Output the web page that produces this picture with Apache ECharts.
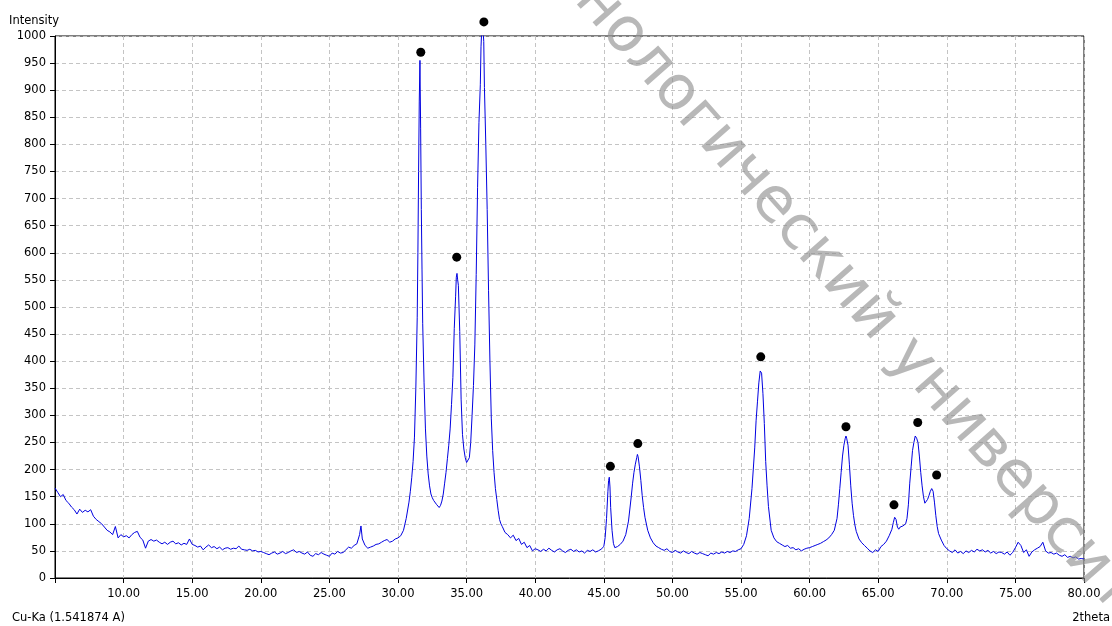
<!DOCTYPE html>
<html><head><meta charset="utf-8">
<script src="https://cdn.jsdelivr.net/npm/echarts@6/dist/echarts.min.js"></script>
<style>html,body{margin:0;padding:0;background:#fff}#c{width:1112px;height:626px}</style>
</head><body><div id="c"></div>
<script>
// 2theta scan positions (deg)
const twoTheta = [
  5.0,5.2,5.4,5.6,5.8,6.0,6.2,6.4,6.6,6.8,
  7.0,7.2,7.4,7.6,7.8,8.0,8.2,8.4,8.6,8.8,
  9.0,9.2,9.4,9.6,9.8,10.0,10.2,10.4,10.6,10.8,
  11.0,11.2,11.4,11.6,11.8,12.0,12.2,12.4,12.6,12.8,
  13.0,13.2,13.4,13.6,13.8,14.0,14.2,14.4,14.6,14.8,
  15.0,15.2,15.4,15.6,15.8,16.0,16.2,16.4,16.6,16.8,
  17.0,17.2,17.4,17.6,17.8,18.0,18.2,18.4,18.6,18.8,
  19.0,19.2,19.4,19.6,19.8,20.0,20.2,20.4,20.6,20.8,
  21.0,21.2,21.4,21.6,21.8,22.0,22.2,22.4,22.6,22.8,
  23.0,23.2,23.4,23.6,23.8,24.0,24.2,24.4,24.6,24.8,
  25.0,25.2,25.4,25.6,25.8,26.0,26.2,26.4,26.6,26.8,
  27.0,27.2,27.3,27.4,27.6,27.8,28.0,28.2,28.4,28.6,
  28.8,29.0,29.2,29.4,29.6,29.8,30.0,30.2,30.4,30.6,
  30.8,30.9,31.0,31.1,31.2,31.3,31.4,31.45,31.5,31.55,
  31.6,31.65,31.7,31.75,31.8,31.9,32.0,32.1,32.2,32.3,
  32.4,32.5,32.6,32.7,32.8,32.9,33.0,33.1,33.2,33.3,
  33.4,33.5,33.6,33.7,33.8,33.9,34.0,34.1,34.2,34.25,
  34.3,34.35,34.4,34.5,34.6,34.7,34.8,34.9,35.0,35.1,
  35.2,35.3,35.4,35.5,35.6,35.7,35.8,35.9,36.0,36.05,
  36.1,36.15,36.2,36.25,36.3,36.4,36.5,36.6,36.7,36.8,
  36.9,37.0,37.1,37.2,37.3,37.4,37.5,37.6,37.8,38.0,
  38.2,38.4,38.6,38.8,39.0,39.2,39.4,39.6,39.8,40.0,
  40.2,40.4,40.6,40.8,41.0,41.2,41.4,41.6,41.8,42.0,
  42.2,42.4,42.6,42.8,43.0,43.2,43.4,43.6,43.8,44.0,
  44.2,44.4,44.6,44.8,45.0,45.1,45.2,45.3,45.35,45.4,
  45.45,45.5,45.6,45.7,45.8,45.9,46.0,46.2,46.4,46.6,
  46.8,47.0,47.1,47.2,47.3,47.4,47.45,47.5,47.6,47.7,
  47.8,47.9,48.0,48.2,48.4,48.6,48.8,49.0,49.2,49.4,
  49.6,49.8,50.0,50.2,50.4,50.6,50.8,51.0,51.2,51.4,
  51.6,51.8,52.0,52.2,52.4,52.6,52.8,53.0,53.2,53.4,
  53.6,53.8,54.0,54.2,54.4,54.6,54.8,55.0,55.2,55.4,
  55.6,55.8,56.0,56.1,56.2,56.3,56.4,56.45,56.5,56.6,
  56.7,56.8,56.9,57.0,57.2,57.4,57.6,57.8,58.0,58.2,
  58.4,58.6,58.8,59.0,59.2,59.4,59.6,59.8,60.0,60.2,
  60.4,60.6,60.8,61.0,61.2,61.4,61.6,61.8,62.0,62.1,
  62.2,62.3,62.4,62.5,62.6,62.65,62.7,62.8,62.9,63.0,
  63.1,63.2,63.3,63.4,63.6,63.8,64.0,64.2,64.4,64.6,
  64.8,65.0,65.2,65.4,65.6,65.8,66.0,66.1,66.2,66.3,
  66.4,66.5,66.6,66.8,67.0,67.1,67.2,67.3,67.4,67.5,
  67.6,67.7,67.75,67.8,67.9,68.0,68.1,68.2,68.3,68.4,
  68.5,68.6,68.7,68.8,68.9,69.0,69.1,69.2,69.3,69.4,
  69.6,69.8,70.0,70.2,70.4,70.6,70.8,71.0,71.2,71.4,
  71.6,71.8,72.0,72.2,72.4,72.6,72.8,73.0,73.2,73.4,
  73.6,73.8,74.0,74.2,74.4,74.6,74.8,75.0,75.2,75.4,
  75.6,75.8,76.0,76.2,76.4,76.6,76.8,77.0,77.2,77.4,
  77.6,77.8,78.0,78.2,78.4,78.6,78.8,79.0,79.2,79.4,
  79.6,79.8,80.0
];
// measured intensity (counts)
const intensity = [
  166,158,150,154,143,138,131,126,118,127,
  121,125,122,126,114,108,104,100,94,88,
  85,80,95,74,80,76,78,74,80,84,
  86,75,70,55,68,71,68,70,66,63,
  66,62,66,68,63,65,61,64,62,72,
  62,60,57,59,52,57,61,56,58,54,
  57,52,55,56,53,55,54,59,53,52,
  51,53,50,51,48,49,47,45,43,46,
  48,44,46,49,45,47,50,52,47,49,
  46,44,48,42,40,45,43,47,44,42,
  40,46,44,49,46,47,52,57,55,60,
  63,80,96,72,60,55,57,59,62,63,
  66,69,71,66,68,72,74,78,88,110,
  140,160,185,215,260,350,480,600,750,880,
  955,830,680,570,470,360,275,225,192,170,
  155,148,143,141,136,133,130,134,142,155,
  175,195,220,245,275,320,370,460,520,555,
  562,550,540,455,330,265,238,222,213,210,
  222,250,300,355,430,560,720,840,910,980,
  1010,1018,1012,990,905,800,680,530,400,295,
  235,195,165,145,125,108,100,95,84,80,
  74,79,69,73,62,66,56,60,50,54,
  52,49,53,50,55,51,48,52,54,50,
  47,51,53,49,52,48,50,46,51,49,
  52,48,50,53,58,75,110,160,180,186,
  168,130,88,64,56,55,58,62,68,80,
  105,150,175,195,210,222,228,224,205,180,
  152,130,112,88,74,65,59,56,53,51,
  54,49,47,51,48,46,50,47,45,49,
  46,44,47,45,43,41,46,44,47,45,
  48,46,49,47,50,49,52,54,62,78,
  110,165,240,290,325,360,382,385,378,340,
  285,215,170,132,88,74,67,64,61,58,
  60,55,56,52,54,50,53,55,56,58,
  60,62,64,67,70,74,80,88,110,135,
  165,195,225,245,258,262,258,245,210,170,
  138,115,98,86,72,65,60,55,50,47,
  52,49,58,62,68,78,90,102,112,108,
  94,90,94,96,100,110,135,175,205,235,
  250,262,265,258,250,225,195,170,150,138,
  140,145,152,160,165,160,140,115,95,82,
  70,60,54,50,47,52,46,49,45,50,
  47,51,48,53,50,52,48,51,46,49,
  45,48,47,44,48,42,47,56,66,60,
  47,52,40,48,52,55,58,66,50,46,
  47,44,46,42,40,43,38,40,37,39,
  35,36,35
];
// identified peak markers
const peakTheta = [31.66, 34.28, 36.26, 45.48, 47.48, 56.44, 62.65, 66.15, 67.88, 69.26];
const peakMark  = [970, 592, 1026, 206, 248, 408, 279, 135, 287, 190];

const yTitle = 'Intensity';
const xTitle = '2theta';
const radiation = 'Cu-Ka (1.541874 A)';
const watermark = 'технологический университет';

const FONT = 'DejaVu Sans';
const chart = echarts.init(document.getElementById('c'), null, {renderer: 'canvas'});
const gridLine = {show: true, lineStyle: {color: '#c4c4c4', type: [4, 3], width: 1}};
chart.setOption({
  animation: false,
  grid: {left: 55, top: 36, right: 28, bottom: 48, show: true, borderColor: '#000', borderWidth: 1, backgroundColor: 'rgba(0,0,0,0)'},
  xAxis: {
    type: 'value', min: 5, max: 80, interval: 5,
    axisLine: {lineStyle: {color: '#000', width: 1}},
    axisTick: {show: true, length: 5, lineStyle: {color: '#000'}},
    axisLabel: {color: '#000', fontFamily: FONT, fontSize: 11.5, margin: 10,
      formatter: v => v === 5 ? '' : v.toFixed(2)},
    splitLine: gridLine
  },
  yAxis: {
    type: 'value', min: 0, max: 1000, interval: 50,
    axisLine: {show: true, lineStyle: {color: '#000', width: 1}},
    axisTick: {show: true, length: 5, lineStyle: {color: '#000'}},
    axisLabel: {color: '#000', fontFamily: FONT, fontSize: 11.5, margin: 9,
      formatter: v => String(v)},
    splitLine: gridLine
  },
  series: [
    {type: 'line', data: twoTheta.map((t, i) => [t, intensity[i]]), showSymbol: false,
     lineStyle: {color: '#0000e0', width: 1}, clip: true, z: 3},
    {type: 'scatter', data: peakTheta.map((t, i) => [t, peakMark[i]]), symbol: 'circle',
     symbolSize: 9, itemStyle: {color: '#000', opacity: 1}, clip: false, z: 4}
  ],
  graphic: [
    {type: 'text', x: 9, y: 21, style: {text: yTitle, fontFamily: FONT, fontSize: 11.5, fill: '#000', verticalAlign: 'middle', align: 'left'}},
    {type: 'text', x: 12, y: 618, style: {text: radiation, fontFamily: FONT, fontSize: 11.5, fill: '#000', verticalAlign: 'middle', align: 'left'}},
    {type: 'text', x: 1110, y: 618, style: {text: xTitle, fontFamily: FONT, fontSize: 11.5, fill: '#000', verticalAlign: 'middle', align: 'right'}},
    {type: 'text', x: 843, y: 283, rotation: -0.85, z: 100,
     style: {text: watermark, fontFamily: FONT, fontSize: 62, fill: 'rgba(140,140,140,0.62)', align: 'center', verticalAlign: 'middle'}}
  ]
});
</script></body></html>
